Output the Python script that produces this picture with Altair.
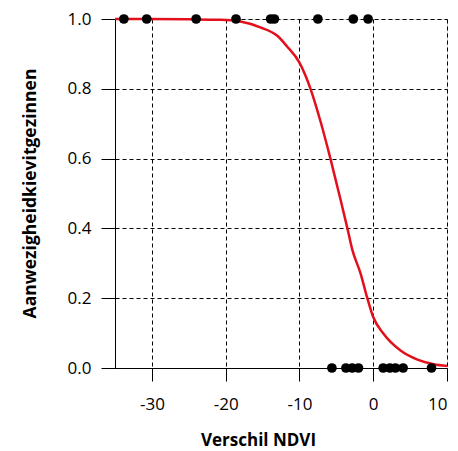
import altair as alt
import pandas as pd

# Observations (presence = 1, absence = 0)
presence_x = [-33.8, -30.7, -24.0, -18.6, -13.9, -13.4, -7.5, -2.7, -0.7]
absence_x = [-5.6, -3.7, -2.85, -2.0, 1.35, 2.25, 3.0, 4.05, 7.9]

# Fitted curve
curve_x = [-35, -25, -20.7, -18.0, -15.3, -13.0, -11.7, -10.0, -8.5, -7.15, -5.8,
           -4.4, -3.5, -2.85, -1.7, -0.8, 0.0, 1.4, 3.7, 6.0, 8.2, 10.0]
curve_y = [1.0, 0.999, 0.998, 0.993, 0.976, 0.952, 0.922, 0.875, 0.80, 0.707, 0.60,
           0.48, 0.40, 0.34, 0.27, 0.20, 0.146, 0.098, 0.05, 0.024, 0.011, 0.006]

x_ticks = [-30, -20, -10, 0, 10]
y_ticks = [0.0, 0.2, 0.4, 0.6, 0.8, 1.0]

pts = pd.DataFrame({
    "x": presence_x + absence_x,
    "y": [1.0] * len(presence_x) + [0.0] * len(absence_x),
})
curve = pd.DataFrame({"x": curve_x, "y": curve_y})

FONT = "Open Sans"

xscale = alt.Scale(domain=[-35, 10], nice=False, zero=False)
yscale = alt.Scale(domain=[0, 1], nice=False)

xaxis = alt.Axis(
    values=x_ticks, title="Verschil NDVI", labelExpr="'' + datum.value",
    grid=True, gridColor="black", gridDash=[4, 3], gridWidth=1,
    tickSize=13, tickColor="black", domainColor="black",
    labelFont=FONT, labelFontSize=17, labelColor="black", labelPadding=15,
    titleFont=FONT, titleFontSize=17, titleFontWeight="bold", titleColor="black",
    titleX=143, titleY=77, titleBaseline="alphabetic", titleAlign="center",
)
yaxis = alt.Axis(
    values=y_ticks, title="Aanwezigheidkievitgezinnen", format=".1f",
    grid=True, gridColor="black", gridDash=[4, 3], gridWidth=1,
    tickSize=14, tickColor="black", domainColor="black",
    labelFont=FONT, labelFontSize=17, labelColor="black", labelPadding=10,
    titleFont=FONT, titleFontSize=17.5, titleFontWeight="bold", titleColor="black",
    titleX=-80, titleY=174, titleBaseline="alphabetic", titleAlign="center",
)

line = alt.Chart(curve).mark_line(color="#e3101c", strokeWidth=2.5, interpolate="monotone").encode(
    x=alt.X("x:Q", scale=xscale, axis=xaxis),
    y=alt.Y("y:Q", scale=yscale, axis=yaxis),
)
dots = alt.Chart(pts).mark_circle(color="black", opacity=1, size=95).encode(
    x=alt.X("x:Q", scale=xscale),
    y=alt.Y("y:Q", scale=yscale),
)

chart = (line + dots).properties(
    width=332, height=349,
    autosize=alt.AutoSizeParams(type="none"),
    padding={"left": 107, "top": 11, "right": 3, "bottom": 83},
).configure_view(
    fill="#f4f7e4", stroke="black", strokeWidth=1
).configure(background="white")

chart.save("out.html", embed_options={"renderer": "svg", "actions": False})
